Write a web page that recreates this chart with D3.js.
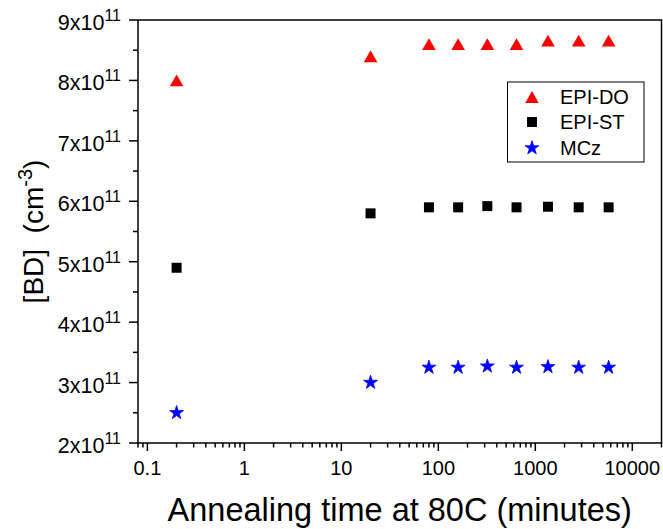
<!DOCTYPE html>
<html>
<head>
<meta charset="utf-8">
<script src="https://cdn.jsdelivr.net/npm/d3@7"></script>
<style>
  html, body { margin: 0; padding: 0; background: #fff; }
  svg { display: block; }
  text { font-family: "Liberation Sans", Arial, sans-serif; fill: #000; }
</style>
</head>
<body>
<svg id="chart" width="663" height="529"></svg>
<script>
// ---- data ----
const times = [0.2, 20, 80, 160, 320, 640, 1350, 2800, 5700];
const epiDO = [8.0, 8.4, 8.6, 8.6, 8.6, 8.6, 8.66, 8.66, 8.66];   // x1e11
const epiST = [4.9, 5.8, 5.9, 5.9, 5.92, 5.9, 5.91, 5.9, 5.9];    // x1e11
const mcz   = [2.5, 3.0, 3.25, 3.25, 3.27, 3.25, 3.26, 3.25, 3.25]; // x1e11
const seriesNames = ["EPI-DO", "EPI-ST", "MCz"];
const xTickLabels = ["0.1", "1", "10", "100", "1000", "10000"];
const xTickValues = [0.1, 1, 10, 100, 1000, 10000];
const yTickMantissas = [2, 3, 4, 5, 6, 7, 8, 9];
const yExponent = 11;

// ---- layout ----
const svg = d3.select("#chart");
const L = 138, R = 661.5, T = 20, B = 443;

const x = d3.scaleLog().domain([0.08, 20000]).range([L, R]);
const y = d3.scaleLinear().domain([2, 9]).range([B, T]);

// bbox-centred triangle
const triBox = {
  draw(ctx, size) {
    const s = Math.sqrt(size * 4 / Math.sqrt(3));
    const h = s * Math.sqrt(3) / 2;
    ctx.moveTo(0, -h / 2);
    ctx.lineTo(s / 2, h / 2);
    ctx.lineTo(-s / 2, h / 2);
    ctx.closePath();
  }
};

const styles = [
  { type: triBox, size: 80, color: "#ff0000" },
  { type: d3.symbolSquare, size: 100, color: "#000000" },
  { type: d3.symbolStar, size: 60, color: "#0000ff" }
];
const allSeries = [epiDO, epiST, mcz];

// frame
svg.append("rect")
  .attr("x", L).attr("y", T).attr("width", R - L).attr("height", B - T)
  .attr("fill", "none").attr("stroke", "#000").attr("stroke-width", 1.5);

// x axis ticks
const xMinor = [];
for (let e = -2; e <= 4; e++) {
  for (let m = 1; m <= 9; m++) {
    const v = m * Math.pow(10, e);
    if (v >= 0.08 - 1e-9 && v <= 20000 + 1e-6) xMinor.push(v);
  }
}
const gx = svg.append("g");
gx.selectAll("line.minor").data(xMinor).enter().append("line")
  .attr("x1", d => x(d)).attr("x2", d => x(d))
  .attr("y1", B).attr("y2", d => xTickValues.some(t => Math.abs(t - d) / t < 1e-6) ? B + 8 : B + 4.5)
  .attr("stroke", "#000").attr("stroke-width", 1.5);
gx.selectAll("text").data(xTickValues).enter().append("text")
  .attr("x", d => x(d)).attr("y", 475)
  .attr("text-anchor", "middle").attr("font-size", 20)
  .text((d, i) => xTickLabels[i]);

// y axis ticks
const yMinor = d3.range(2.5, 9, 1);
const gy = svg.append("g");
gy.selectAll("line.maj").data(yTickMantissas).enter().append("line")
  .attr("x1", L - 9).attr("x2", L).attr("y1", d => y(d)).attr("y2", d => y(d))
  .attr("stroke", "#000").attr("stroke-width", 1.5);
gy.selectAll("line.min").data(yMinor).enter().append("line")
  .attr("x1", L - 5).attr("x2", L).attr("y1", d => y(d)).attr("y2", d => y(d))
  .attr("stroke", "#000").attr("stroke-width", 1.5);
const yt = gy.selectAll("text").data(yTickMantissas).enter().append("text")
  .attr("x", 121).attr("y", d => y(d) + 10)
  .attr("text-anchor", "end").attr("font-size", 21.5);
yt.append("tspan").text(d => d + "x10");
yt.append("tspan").attr("font-size", 16).attr("dy", -9).text(yExponent);

// data points
allSeries.forEach((vals, si) => {
  const st = styles[si];
  const sym = d3.symbol().type(st.type).size(st.size);
  svg.append("g").selectAll("path").data(vals).enter().append("path")
    .attr("transform", (d, i) => `translate(${x(times[i])},${y(d)})`)
    .attr("d", sym).attr("fill", st.color)
    .attr("stroke", st.color).attr("stroke-width", si === 2 ? 0.8 : 0);
});

// legend
const lg = svg.append("g");
lg.append("rect").attr("x", 507.5).attr("y", 82).attr("width", 136.5).attr("height", 80)
  .attr("fill", "#fff").attr("stroke", "#000").attr("stroke-width", 1);
const legY = [97, 122, 148];
seriesNames.forEach((n, i) => {
  const st = styles[i];
  lg.append("path")
    .attr("transform", `translate(532,${legY[i]})`)
    .attr("d", d3.symbol().type(st.type).size(st.size)()).attr("fill", st.color)
    .attr("stroke", st.color).attr("stroke-width", i === 2 ? 0.8 : 0);
  lg.append("text").attr("x", 560).attr("y", legY[i] + 6.8)
    .attr("font-size", 20).text(n);
});

// axis titles
svg.append("text").attr("x", (L + R) / 2).attr("y", 521)
  .attr("text-anchor", "middle").attr("font-size", 32.5)
  .text("Annealing time at 80C (minutes)");

const yTitle = svg.append("text")
  .attr("transform", `translate(43,${(T + B) / 2}) rotate(-90)`)
  .attr("text-anchor", "middle").attr("font-size", 28)
  .attr("xml:space", "preserve").style("white-space", "pre");
yTitle.append("tspan").text("[BD]  (cm");
yTitle.append("tspan").attr("font-size", 20).attr("dy", -11).text("-3");
yTitle.append("tspan").attr("dy", 11).text(")");
</script>
</body>
</html>
